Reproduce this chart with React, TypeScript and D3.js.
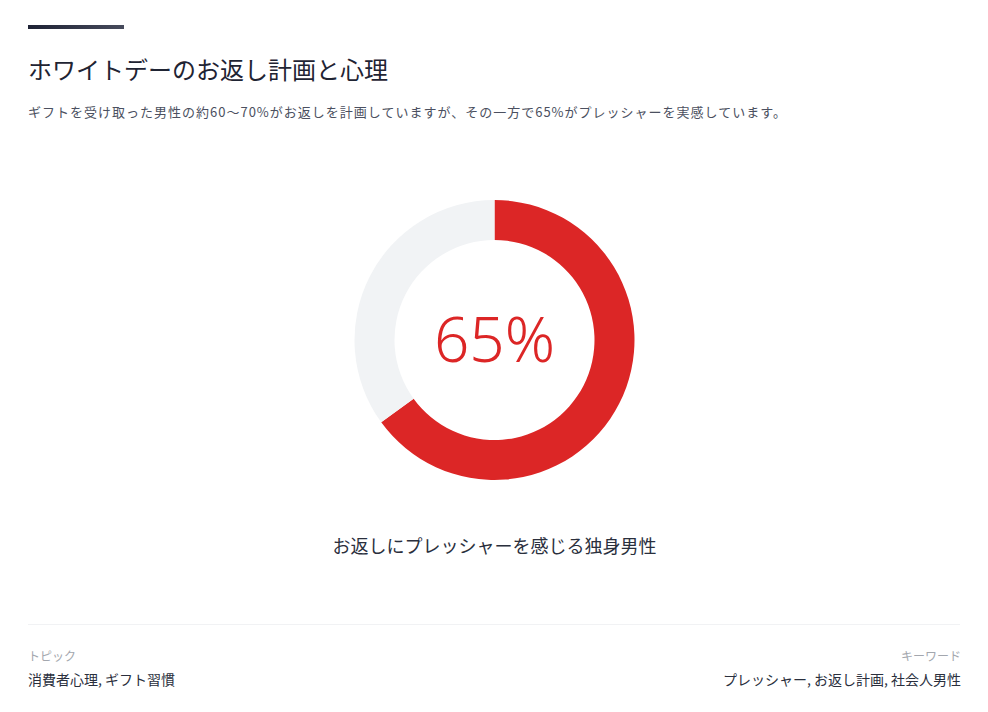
import { useMemo } from "react";
import * as d3 from "d3";

const TITLE = "ホワイトデーのお返し計画と心理";
const SUBTITLE =
  "ギフトを受け取った男性の約60〜70%がお返しを計画していますが、その一方で65%がプレッシャーを実感しています。";
const SHARE_LABELS = ["プレッシャーを感じる", "その他"];
const SHARE_VALUES = [65, 35];
const CAPTION = "お返しにプレッシャーを感じる独身男性";
const TOPIC_LABEL = "トピック";
const TOPIC_VALUE = "消費者心理, ギフト習慣";
const KEYWORD_LABEL = "キーワード";
const KEYWORD_VALUE = "プレッシャー, お返し計画, 社会人男性";

const W = 988;
const H = 712;
const FONT = `"Noto Sans CJK JP", "Noto Sans", sans-serif`;
const RED = "#dc2626";
const TRACK = "#f1f3f5";

export default function App() {
  const cx = 494.5;
  const cy = 340;
  const outer = 140;
  const inner = 100;

  const arcs = useMemo(() => {
    const pie = d3
      .pie<number>()
      .value((d) => d)
      .sort(null)
      .startAngle(0)
      .endAngle(2 * Math.PI);
    return pie(SHARE_VALUES);
  }, []);

  const arc = d3.arc<d3.PieArcDatum<number>>().innerRadius(inner).outerRadius(outer);
  const total = d3.sum(SHARE_VALUES);
  const pct = d3.format(".0%")(SHARE_VALUES[0] / total);

  return (
    <svg
      width={W}
      height={H}
      viewBox={`0 0 ${W} ${H}`}
      style={{ position: "absolute", left: 0, top: 0, display: "block", background: "#fff" }}
      fontFamily={FONT}
    >
      <defs>
        <linearGradient id="bar" x1="0" x2="1" y1="0" y2="0">
          <stop offset="0%" stopColor="#1e2235" />
          <stop offset="100%" stopColor="#474b5c" />
        </linearGradient>
      </defs>

      {/* header accent */}
      <rect x={28} y={25} width={96} height={4} fill="url(#bar)" />

      <text x={28} y={79} fontSize={24} fill="#1f2433">
        {TITLE}
      </text>
      <text x={28} y={117} fontSize={13} letterSpacing={1} fill="#4b5060">
        {SUBTITLE}
      </text>

      {/* donut */}
      <g transform={`translate(${cx},${cy})`}>
        {arcs.map((a, i) => (
          <path key={SHARE_LABELS[i]} d={arc(a) ?? ""} fill={i === 0 ? RED : TRACK} />
        ))}
        <text
          x={0}
          y={0}
          dy="0.35em"
          textAnchor="middle"
          fontSize={62}
          fontWeight={300}
          fill={RED}
          fontFamily={`"Noto Sans", "Open Sans", sans-serif`}
        >
          {pct}
        </text>
      </g>

      <text x={cx} y={553} textAnchor="middle" fontSize={18} fill="#2a2f3d">
        {CAPTION}
      </text>

      {/* footer */}
      <line x1={28} x2={960} y1={624.5} y2={624.5} stroke="#f1f2f4" strokeWidth={1} />
      <text x={28} y={661} fontSize={12} fill="#a3a7ae">
        {TOPIC_LABEL}
      </text>
      <text x={28} y={684.5} fontSize={14} fill="#2a2f3d">
        {TOPIC_VALUE}
      </text>
      <text x={961} y={661} textAnchor="end" fontSize={12} fill="#a3a7ae">
        {KEYWORD_LABEL}
      </text>
      <text x={961} y={684.5} textAnchor="end" fontSize={14} fill="#2a2f3d">
        {KEYWORD_VALUE}
      </text>
    </svg>
  );
}
